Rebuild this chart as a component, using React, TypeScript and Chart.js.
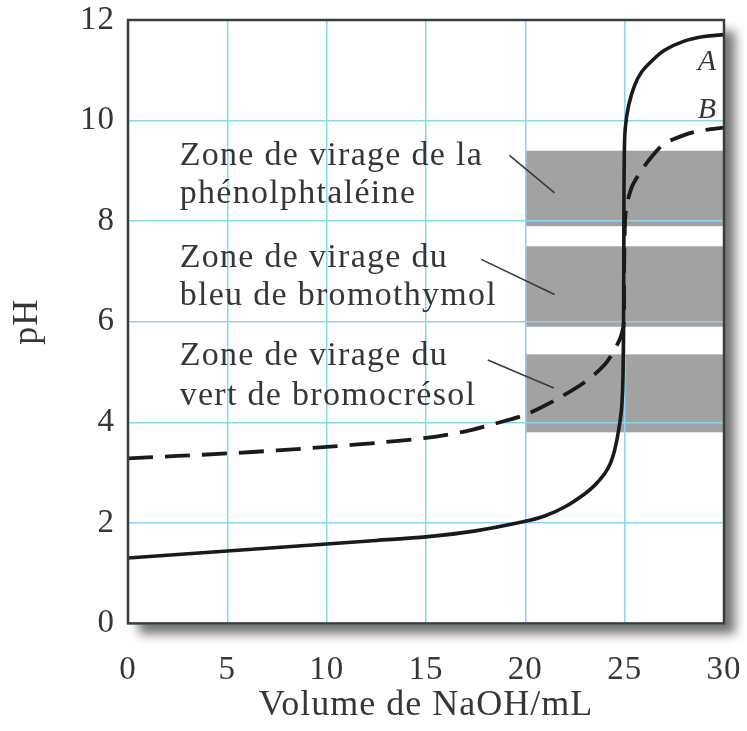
import React, { useEffect, useRef } from 'react';
import { Chart, registerables } from 'chart.js';
Chart.register(...registerables);

// ---- data ----
const volA = [0, 2.5, 5, 7.5, 10, 12.5, 15, 17.5, 20, 21, 22, 23, 23.5, 24, 24.3, 24.5, 24.7, 24.85, 24.92, 24.95, 24.96, 24.98, 25.03, 25.2, 25.5, 25.86, 26.4, 27, 28, 29, 30];
const phA = [1.30, 1.37, 1.44, 1.51, 1.58, 1.65, 1.72, 1.84, 2.03, 2.14, 2.32, 2.58, 2.75, 2.98, 3.2, 3.45, 3.85, 4.3, 5.0, 6.5, 8.0, 9.3, 9.85, 10.3, 10.7, 10.97, 11.2, 11.4, 11.58, 11.67, 11.71];

const volB = [0, 2.5, 5, 7.5, 10, 12.5, 15, 17, 18, 19, 20, 21.5, 23, 24, 24.5, 24.8, 24.95, 24.97, 25.02, 25.1, 25.36, 25.85, 26.4, 27, 28.2, 29, 30];
const phB = [3.28, 3.33, 3.38, 3.44, 3.51, 3.59, 3.69, 3.82, 3.92, 4.03, 4.15, 4.44, 4.80, 5.15, 5.45, 5.7, 5.95, 7.0, 8.0, 8.3, 8.68, 9.01, 9.3, 9.54, 9.74, 9.81, 9.86];

const bandFrom = 20;
const bandTo = 30;
const bandLow = [7.9, 5.9, 3.8];
const bandHigh = [9.4, 7.5, 5.35];

const noteLines = [
  ['Zone de virage de la', 'phénolphtaléine'],
  ['Zone de virage du', 'bleu de bromothymol'],
  ['Zone de virage du', 'vert de bromocrésol'],
];
const noteX = 2.6;
const noteBaselines = [
  [9.11, 8.36],
  [7.09, 6.33],
  [5.14, 4.34],
];
// leader lines [x1, y1, x2, y2] in data units
const leaders = [
  [19.2, 9.31, 21.47, 8.56],
  [17.78, 7.24, 21.47, 6.54],
  [18.11, 5.24, 21.43, 4.68],
];
const curveLabels = ['A', 'B'];
const curveLabelPos = [
  [29.6, 11.0],
  [29.6, 10.05],
];

const xTitle = 'Volume de NaOH/mL';
const yTitle = 'pH';

const SERIF = '"Liberation Serif", "Times New Roman", serif';
const TEXT = '#363636';
const GRID = '#8ad6f2';

const decorPlugin = {
  id: 'decor',
  beforeDraw(chart: any) {
    const { ctx, chartArea } = chart;
    const { left, top, right, bottom } = chartArea;
    const xs = chart.scales.x;
    const ys = chart.scales.y;
    ctx.save();
    ctx.shadowColor = 'rgba(0,0,0,0.55)';
    ctx.shadowBlur = 10;
    ctx.shadowOffsetX = 11;
    ctx.shadowOffsetY = 11;
    ctx.fillStyle = '#ffffff';
    ctx.fillRect(left, top, right - left, bottom - top);
    ctx.restore();
    ctx.save();
    ctx.fillStyle = '#a2a2a2';
    for (let i = 0; i < bandLow.length; i++) {
      const x1 = xs.getPixelForValue(bandFrom);
      const x2 = xs.getPixelForValue(bandTo);
      const y1 = ys.getPixelForValue(bandHigh[i]);
      const y2 = ys.getPixelForValue(bandLow[i]);
      ctx.fillRect(x1, y1, x2 - x1, y2 - y1);
    }
    ctx.restore();
    (ctx as any).letterSpacing = '1px';
  },
  afterDatasetsDraw(chart: any) {
    const { ctx, chartArea } = chart;
    const { left, top, right, bottom } = chartArea;
    const xs = chart.scales.x;
    const ys = chart.scales.y;
    ctx.save();
    // frame
    ctx.strokeStyle = '#3c3c3c';
    ctx.lineWidth = 2.5;
    ctx.strokeRect(left, top, right - left, bottom - top);
    // leaders
    ctx.strokeStyle = '#3a3a3a';
    ctx.lineWidth = 1.6;
    leaders.forEach((l) => {
      ctx.beginPath();
      ctx.moveTo(xs.getPixelForValue(l[0]), ys.getPixelForValue(l[1]));
      ctx.lineTo(xs.getPixelForValue(l[2]), ys.getPixelForValue(l[3]));
      ctx.stroke();
    });
    // notes
    ctx.fillStyle = TEXT;
    ctx.font = '34px ' + SERIF;
    (ctx as any).letterSpacing = '1.3px';
    ctx.textAlign = 'left';
    ctx.textBaseline = 'alphabetic';
    noteLines.forEach((lines, i) => {
      lines.forEach((t, j) => {
        ctx.fillText(t, xs.getPixelForValue(noteX), ys.getPixelForValue(noteBaselines[i][j]));
      });
    });
    (ctx as any).letterSpacing = '0px';
    ctx.font = 'italic 30px ' + SERIF;
    ctx.textAlign = 'right';
    curveLabels.forEach((t, i) => {
      ctx.fillText(t, xs.getPixelForValue(curveLabelPos[i][0]), ys.getPixelForValue(curveLabelPos[i][1]));
    });
    ctx.restore();
    (ctx as any).letterSpacing = '1px';
  },
};

export default function App() {
  const ref = useRef<HTMLCanvasElement>(null);
  useEffect(() => {
    if (!ref.current) return;
    const chart = new Chart(ref.current, {
      type: 'line',
      data: {
        datasets: [
          {
            label: 'A',
            data: volA.map((v, i) => ({ x: v, y: phA[i] })),
            borderColor: '#1a1a1a',
            borderWidth: 3.6,
            pointRadius: 0,
            tension: 0.3,
            fill: false,
          },
          {
            label: 'B',
            data: volB.map((v, i) => ({ x: v, y: phB[i] })),
            borderColor: '#1a1a1a',
            borderWidth: 3.8,
            borderDash: [25, 12],
            pointRadius: 0,
            tension: 0.3,
            fill: false,
          },
        ],
      },
      options: {
        animation: false,
        responsive: false,
        devicePixelRatio: 1,
        layout: { padding: { left: 0, top: 20, right: 23, bottom: 0 } },
        plugins: { legend: { display: false }, tooltip: { enabled: false } },
        scales: {
          x: {
            type: 'linear',
            min: 0,
            max: 30,
            ticks: { stepSize: 5, color: TEXT, font: { family: SERIF, size: 33 }, padding: 27, maxRotation: 0 },
            grid: { color: GRID, lineWidth: 1.5, drawTicks: false },
            border: { display: false },
            title: { display: true, text: xTitle, color: TEXT, font: { family: SERIF, size: 36 }, padding: { top: 0, bottom: 4 } },
            afterFit: (s: any) => {
              s.height = 107.6;
              s.paddingLeft = 0; s.paddingRight = 0; s.paddingTop = 0; s.paddingBottom = 0;
            },
          },
          y: {
            type: 'linear',
            min: 0,
            max: 12,
            ticks: { stepSize: 2, color: TEXT, font: { family: SERIF, size: 33 }, padding: 13 },
            grid: { color: GRID, lineWidth: 1.5, drawTicks: false },
            border: { display: false },
            title: { display: true, text: yTitle, color: TEXT, font: { family: SERIF, size: 36 }, padding: { top: 6, bottom: 0 } },
            afterFit: (s: any) => {
              s.width = 128;
              s.paddingLeft = 0; s.paddingRight = 0; s.paddingTop = 0; s.paddingBottom = 0;
            },
          },
        },
      },
      plugins: [decorPlugin],
    });
    return () => chart.destroy();
  }, []);
  return (
    <div style={{ position: 'fixed', left: 0, top: 0, width: 747, height: 731, background: '#fff' }}>
      <canvas ref={ref} width={747} height={731} style={{ display: 'block' }} />
    </div>
  );
}
